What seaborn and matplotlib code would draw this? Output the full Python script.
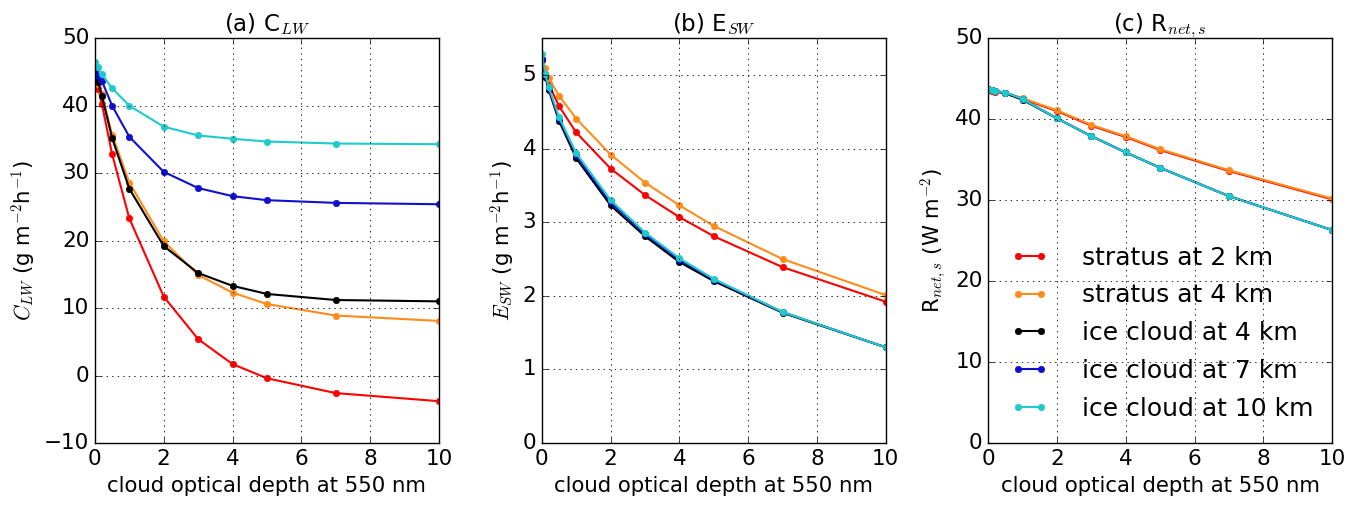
import numpy as np
import pandas as pd
import matplotlib
matplotlib.use("Agg")
import matplotlib.pyplot as plt
import seaborn as sns

# 经典 matplotlib 风格
plt.style.use("classic")
plt.rcParams["figure.facecolor"] = "white"
plt.rcParams["savefig.facecolor"] = "white"
plt.rcParams["font.family"] = ["DejaVu Sans"]
plt.rcParams["mathtext.fontset"] = "cm"
plt.rcParams["axes.unicode_minus"] = True

tau = [0, 0.1, 0.2, 0.5, 1, 2, 3, 4, 5, 7, 10]
cloud_names = ["stratus at 2 km", "stratus at 4 km", "ice cloud at 4 km",
               "ice cloud at 7 km", "ice cloud at 10 km"]
colors = ["#ff0000", "#ff8c1a", "#000000", "#1010cc", "#1ecbcb"]

# (a) C_LW
clw_st2 = [44.0, 42.5, 40.3, 32.8, 23.3, 11.7, 5.4, 1.7, -0.4, -2.6, -3.8]
clw_st4 = [44.4, 43.3, 41.8, 35.7, 28.6, 19.9, 14.9, 12.3, 10.6, 8.9, 8.1]
clw_ic4 = [44.5, 43.5, 41.5, 35.2, 27.7, 19.2, 15.2, 13.3, 12.1, 11.2, 11.0]
clw_ic7 = [45.1, 44.4, 43.7, 40.0, 35.4, 30.2, 27.8, 26.6, 26.0, 25.6, 25.4]
clw_ic10 = [46.5, 45.7, 44.7, 42.6, 40.0, 36.9, 35.6, 35.1, 34.7, 34.4, 34.3]

# (b) E_SW
esw_st2 = [5.20, 5.02, 4.88, 4.58, 4.22, 3.73, 3.37, 3.07, 2.81, 2.39, 1.92]
esw_st4 = [5.22, 5.09, 4.96, 4.72, 4.41, 3.92, 3.54, 3.23, 2.95, 2.50, 2.01]
esw_ic4 = [5.20, 4.98, 4.80, 4.38, 3.87, 3.23, 2.81, 2.46, 2.20, 1.77, 1.30]
esw_ic7 = [5.22, 5.00, 4.82, 4.41, 3.91, 3.27, 2.84, 2.49, 2.22, 1.78, 1.30]
esw_ic10 = [5.29, 5.02, 4.84, 4.43, 3.94, 3.30, 2.86, 2.51, 2.23, 1.78, 1.30]

# (c) R_net,s
rn_st2 = [43.6, 43.5, 43.4, 43.2, 42.5, 41.0, 39.2, 37.8, 36.2, 33.6, 30.1]
rn_st4 = [43.7, 43.6, 43.5, 43.3, 42.6, 41.1, 39.3, 37.9, 36.3, 33.7, 30.2]
rn_ic4 = [43.7, 43.6, 43.5, 43.2, 42.4, 40.1, 37.9, 35.9, 34.0, 30.5, 26.3]
rn_ic7 = [43.7, 43.6, 43.5, 43.3, 42.5, 40.1, 37.9, 35.9, 34.0, 30.5, 26.3]
rn_ic10 = [43.7, 43.6, 43.5, 43.3, 42.5, 40.1, 37.9, 35.9, 34.0, 30.5, 26.3]


def long_table(series):
    rows = []
    for name, vals in zip(cloud_names, series):
        for t, v in zip(tau, vals):
            rows.append({"tau": t, "value": v, "case": name})
    return pd.DataFrame(rows)


panels = [
    (long_table([clw_st2, clw_st4, clw_ic4, clw_ic7, clw_ic10]),
     "(a) C$_{LW}$", "$C_{LW}$ (g m$^{-2}$h$^{-1}$)", (-10, 50), [-10, 0, 10, 20, 30, 40, 50]),
    (long_table([esw_st2, esw_st4, esw_ic4, esw_ic7, esw_ic10]),
     "(b) E$_{SW}$", "$E_{SW}$ (g m$^{-2}$h$^{-1}$)", (0, 5.5), [0, 1, 2, 3, 4, 5]),
    (long_table([rn_st2, rn_st4, rn_ic4, rn_ic7, rn_ic10]),
     "(c) R$_{net,s}$", "R$_{net,s}$ (W m$^{-2}$)", (0, 50), [0, 10, 20, 30, 40, 50]),
]

fig = plt.figure(figsize=(13.64, 5.15), dpi=100)
lefts = [0.0696, 0.3972, 0.7245]
pal = dict(zip(cloud_names, colors))

for i, (df, title, ylab, ylim, yticks) in enumerate(panels):
    ax = fig.add_axes([lefts[i], 0.1398, 0.2522, 0.7858])
    sns.lineplot(data=df, x="tau", y="value", hue="case", hue_order=cloud_names,
                 palette=pal, marker="o", markersize=4.6, linewidth=1.5,
                 sort=False, estimator=None, ax=ax, legend=(i == 2))
    # 标记边框与线同色
    for ln in ax.lines:
        ln.set_markeredgecolor(ln.get_color())
        ln.set_markeredgewidth(0.5)
    ax.set_xlim(0, 10)
    ax.set_ylim(*ylim)
    ax.set_yticks(yticks)
    ax.set_xticks([0, 2, 4, 6, 8, 10])
    ax.grid(True, color="black", linestyle=":", linewidth=0.6)
    ax.tick_params(labelsize=15.5)
    ax.set_title(title, fontsize=16.5)
    ax.set_xlabel("cloud optical depth at 550 nm", fontsize=15.3)
    ax.set_ylabel(ylab, fontsize=15.3)
    if i == 2:
        leg = ax.legend(loc="lower left", bbox_to_anchor=(0.0, 0.0), frameon=False,
                        fontsize=18, handlelength=1.5, handletextpad=1.35,
                        labelspacing=0.55, title=None)
        for h in leg.legend_handles:
            h.set_markeredgecolor(h.get_color())
            h.set_markeredgewidth(0.5)

fig.savefig("out.png", dpi=100)
